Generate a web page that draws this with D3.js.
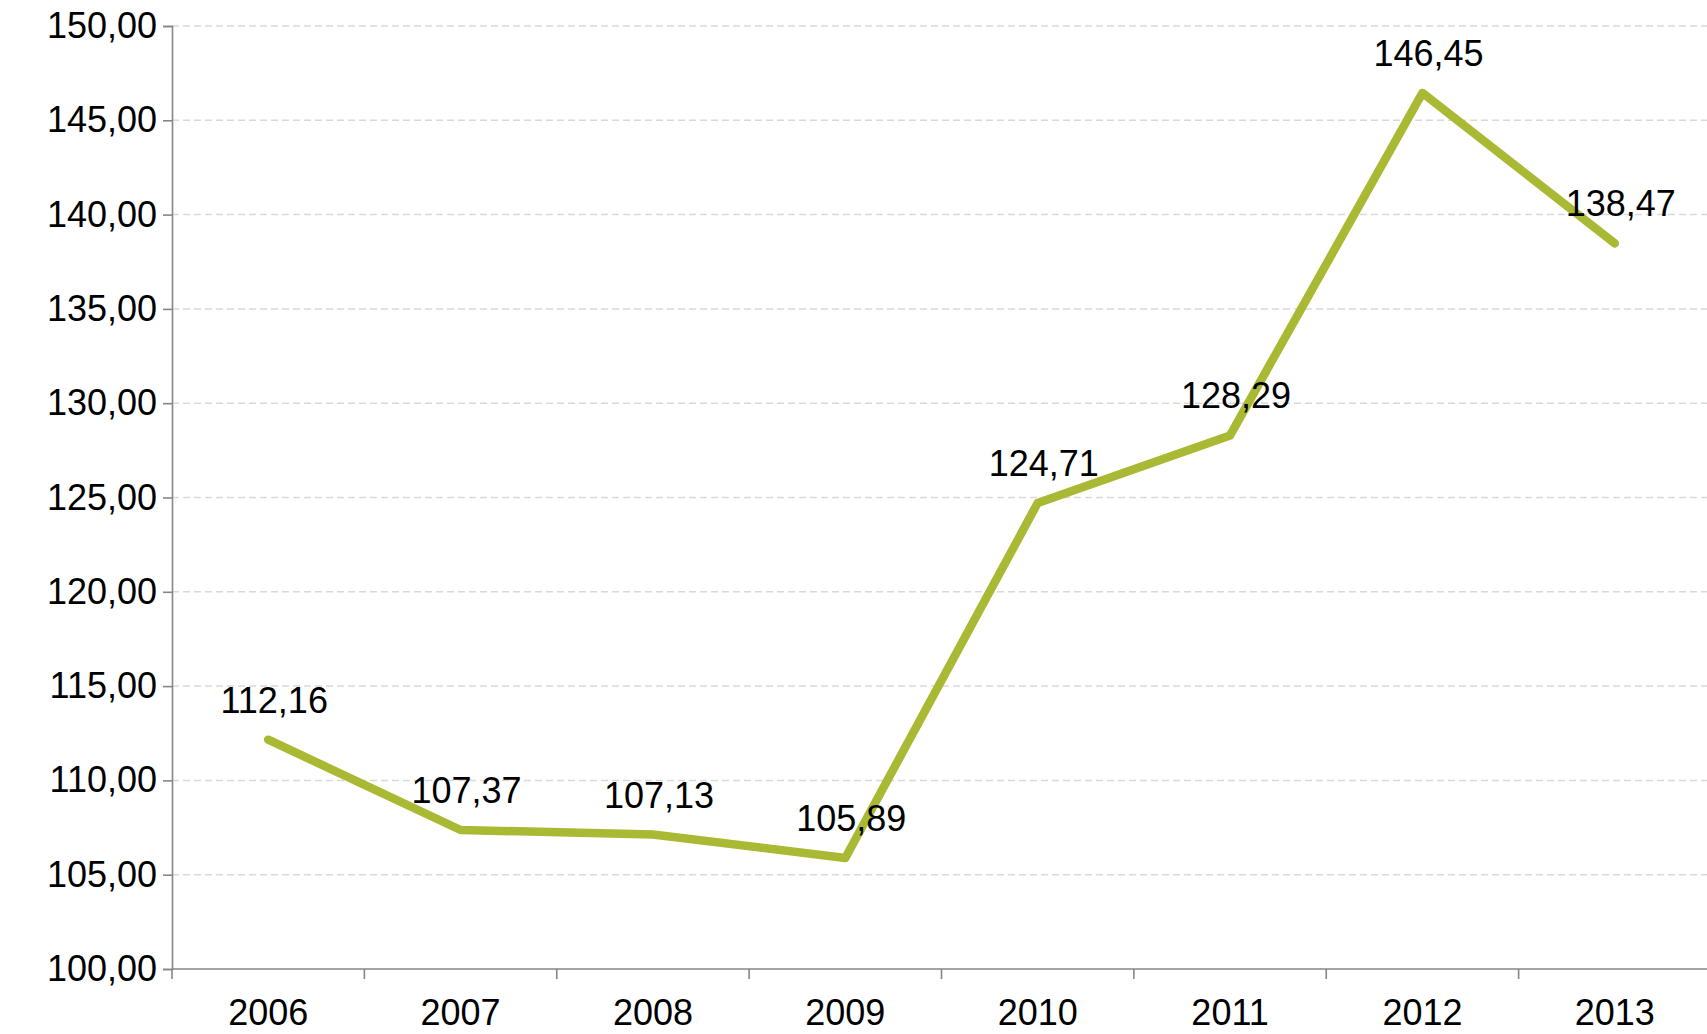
<!DOCTYPE html>
<html><head><meta charset="utf-8">
<script src="https://cdn.jsdelivr.net/npm/d3@7"></script>
<style>body{margin:0;background:#fff;overflow:hidden}text{font-family:"Liberation Sans",Arial,sans-serif}</style>
</head><body>
<script>
// years and index values
var years = ["2006","2007","2008","2009","2010","2011","2012","2013"];
var values = [112.16, 107.37, 107.13, 105.89, 124.71, 128.29, 146.45, 138.47];
var yTicks = [100,105,110,115,120,125,130,135,140,145,150];

var w = 1707, h = 1034;
var svg = d3.select("body").append("svg").attr("width", w).attr("height", h);

var mLeft = 172, mRight = 1711, mTop = 26, mBottom = 969;
var x = d3.scaleBand().domain(years).range([mLeft, mRight]);
var y = d3.scaleLinear().domain([100, 150]).range([mBottom, mTop]);
var fmt = function(v){ return v.toFixed(2).replace(".", ","); };

// grid
svg.selectAll(".grid").data(yTicks.slice(1)).enter().append("line")
  .attr("x1", mLeft).attr("x2", 1707)
  .attr("y1", d => y(d)).attr("y2", d => y(d))
  .attr("stroke", "#d9d9d9").attr("stroke-width", 1.5).attr("stroke-dasharray", "7,4");

// y axis
var yAxis = svg.append("g").attr("transform", "translate(" + mLeft + ",0)")
  .call(d3.axisLeft(y).tickValues(yTicks).tickFormat(fmt).tickSize(9).tickPadding(6));
// x axis
var xAxis = svg.append("g").attr("transform", "translate(0," + mBottom + ")")
  .call(d3.axisBottom(x).tickSize(0).tickPadding(38));
xAxis.selectAll(".domain").attr("d", "M" + mLeft + ",0H1707");
[yAxis, xAxis].forEach(function(a){
  a.selectAll(".domain, line").attr("stroke", "#868686").attr("stroke-width", 1.6);
  a.selectAll("text").attr("font-size", 36).attr("fill", "#000")
    .style("font-family", "Liberation Sans, Arial, sans-serif");
});
xAxis.selectAll("text").attr("dy", "0.5em");
// x tick marks between categories
svg.selectAll(".xt").data(years).enter().append("line")
  .attr("x1", (d,i) => mLeft + i * x.step()).attr("x2", (d,i) => mLeft + i * x.step())
  .attr("y1", mBottom).attr("y2", mBottom + 10).attr("stroke", "#868686").attr("stroke-width", 1.6);

// line
var line = d3.line().x((d,i) => x(years[i]) + x.bandwidth()/2).y(d => y(d));
svg.append("path").datum(values).attr("d", line)
  .attr("fill", "none").attr("stroke", "#aab933").attr("stroke-width", 8.5)
  .attr("stroke-linejoin", "round").attr("stroke-linecap", "round");

// labels
svg.selectAll(".lbl").data(values).enter().append("text")
  .attr("x", (d,i) => x(years[i]) + x.bandwidth()/2 + 6)
  .attr("y", d => y(d) - 27)
  .attr("text-anchor", "middle").attr("font-size", 36).attr("fill", "#000")
  .text(fmt);
</script>
</body></html>
